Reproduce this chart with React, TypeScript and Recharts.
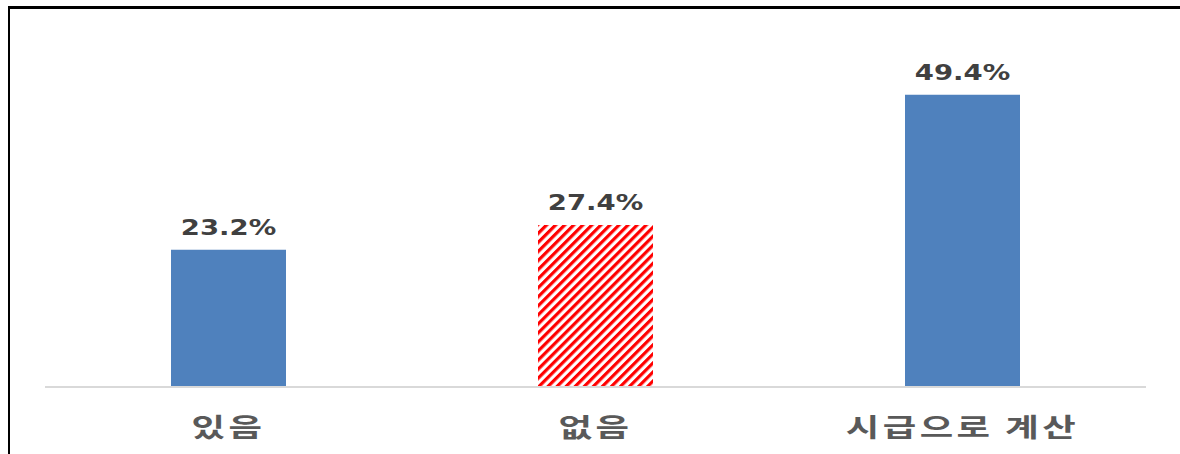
import React from 'react';
import { BarChart, Bar, XAxis, YAxis, Cell, LabelList } from 'recharts';

const categories = ['있음', '없음', '시급으로 계산'];
const shares = [23.2, 27.4, 49.4];
const hatched = [false, true, false];

const data = categories.map((name, i) => ({ name, value: shares[i], hatched: hatched[i] }));

const BLUE = '#4F81BD';

const CategoryTick = (props: any) => {
  const { x, y, payload } = props;
  return (
    <text
      transform={`translate(${x},${y + 42}) scale(1.4,1)`}
      textAnchor="middle"
      fontFamily="'Noto Sans CJK KR', sans-serif"
      fontWeight={700}
      fontSize={26}
      letterSpacing={2.5}
      fill="#595959"
    >
      {payload.value}
    </text>
  );
};

const ValueLabel = (props: any) => {
  const { x, y, width, value } = props;
  return (
    <text
      transform={`translate(${x + width / 2},${y - 15}) scale(1.25,1)`}
      textAnchor="middle"
      fontFamily="'DejaVu Sans', sans-serif"
      fontWeight={700}
      fontSize={22}
      fill="#404040"
    >
      {`${Number(value).toFixed(1)}%`}
    </text>
  );
};

export default function App() {
  return (
    <div style={{ position: 'absolute', left: 0, top: 0, width: 1180, height: 454, background: '#fff' }}>
      <div style={{ position: 'absolute', left: 8, top: 6, right: 0, height: 3, background: '#000' }} />
      <div style={{ position: 'absolute', left: 8, top: 6, width: 2, bottom: 0, background: '#000' }} />
      <BarChart
        width={1180}
        height={454}
        data={data}
        margin={{ top: 32, right: 34, bottom: 7, left: 45 }}
        style={{ position: 'absolute', left: 0, top: 0 }}
      >
        <defs>
          <pattern id="hatch" patternUnits="userSpaceOnUse" width={6.4} height={6.4} patternTransform="rotate(45)">
            <rect x={0} y={0} width={6.4} height={6.4} fill="#fff" />
            <rect x={0} y={0} width={3.2} height={6.4} fill="#FF0000" />
          </pattern>
        </defs>
        <XAxis
          dataKey="name"
          height={60}
          axisLine={{ stroke: '#D9D9D9', strokeWidth: 2 }}
          tickLine={false}
          tick={<CategoryTick />}
          interval={0}
        />
        <YAxis hide domain={[0, 60]} />
        <Bar dataKey="value" barSize={115} isAnimationActive={false}>
          {data.map((d, i) => (
            <Cell key={`c-${i}`} fill={d.hatched ? 'url(#hatch)' : BLUE} />
          ))}
          <LabelList dataKey="value" content={<ValueLabel />} />
        </Bar>
      </BarChart>
    </div>
  );
}
